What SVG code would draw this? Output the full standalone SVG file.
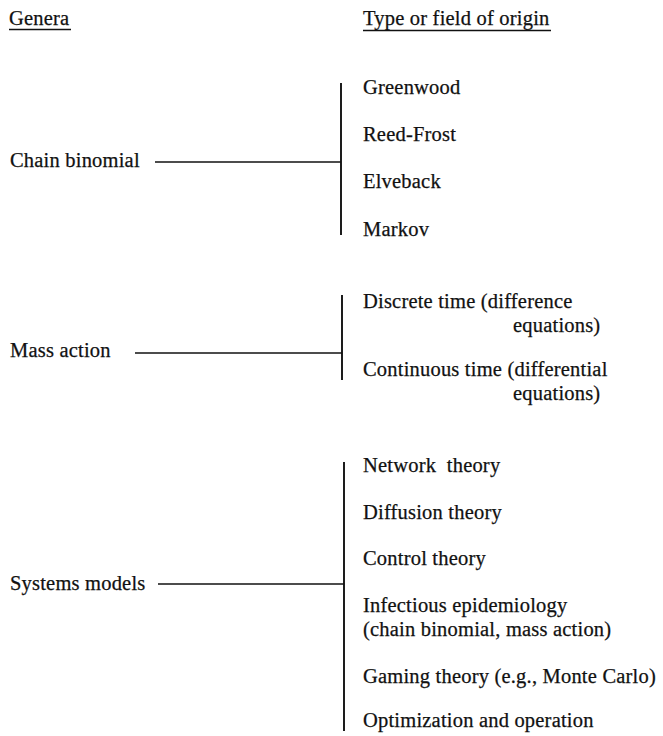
<svg xmlns="http://www.w3.org/2000/svg" width="663" height="736" viewBox="0 0 663 736">
<style>
text{font-family:"Liberation Serif","Times New Roman",serif;font-size:20.5px;letter-spacing:0.2px;fill:#111;stroke:#111;stroke-width:0.25}
.ln{stroke:#111;stroke-width:1.6;fill:none}
.vl{stroke:#111;stroke-width:1.9;fill:none}
.ul{stroke:#111;stroke-width:1.3}
</style>
<rect width="663" height="736" fill="#fff"/>
<g id="header">
<text x="9" y="25">Genera</text>
<line class="ul" x1="9" y1="29.5" x2="71" y2="29.5"/>
<text x="363" y="25">Type or field of origin</text>
<line class="ul" x1="363" y1="30.5" x2="551" y2="30.5"/>
</g>
<g id="chain-binomial">
<text x="10" y="167">Chain binomial</text>
</g>
<g id="chain-types">
<text x="363" y="94">Greenwood</text>
<text x="363" y="141">Reed-Frost</text>
<text x="363" y="188">Elveback</text>
<text x="363" y="236">Markov</text>
</g>
<g id="mass-action">
<text x="10" y="357">Mass action</text>
</g>
<g id="mass-types">
<text x="363" y="308">Discrete time (difference</text>
<text x="513" y="332">equations)</text>
<text x="363" y="376">Continuous time (differential</text>
<text x="513" y="400">equations)</text>
</g>
<g id="systems-models">
<text x="10" y="590">Systems models</text>
</g>
<g id="systems-types">
<text x="363" y="472" xml:space="preserve">Network  theory</text>
<text x="363" y="519">Diffusion theory</text>
<text x="363" y="565">Control theory</text>
<text x="363" y="612">Infectious epidemiology</text>
<text x="363" y="636">(chain binomial, mass action)</text>
<text x="363" y="683">Gaming theory (e.g., Monte Carlo)</text>
<text x="363" y="727">Optimization and operation</text>
</g>
<g id="connectors">
<line class="ln" x1="155" y1="162" x2="341" y2="162"/>
<line class="vl" x1="341" y1="83" x2="341" y2="235"/>
<line class="ln" x1="135" y1="353" x2="342" y2="353"/>
<line class="vl" x1="342" y1="295" x2="342" y2="380"/>
<line class="ln" x1="158" y1="584" x2="344" y2="584"/>
<line class="vl" x1="344" y1="462" x2="344" y2="731"/>
</g>
</svg>
